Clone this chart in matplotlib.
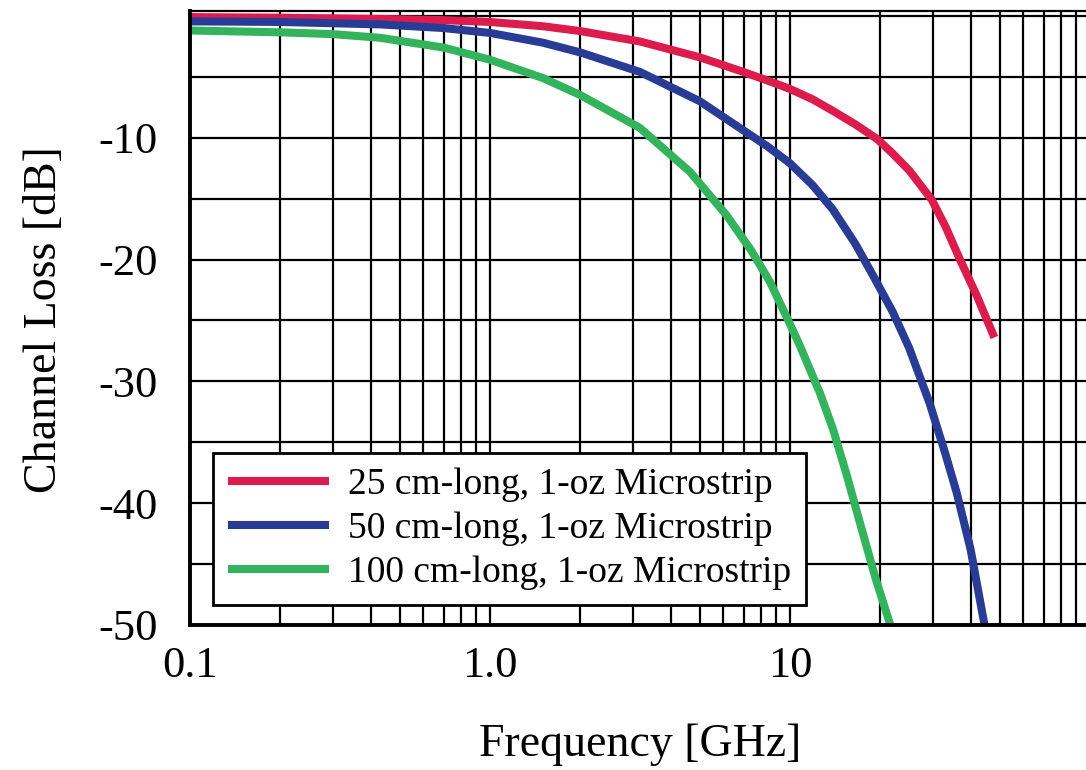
import matplotlib
matplotlib.use('Agg')
import matplotlib.pyplot as plt
import numpy as np

plt.rcParams['font.family'] = ['Liberation Serif', 'DejaVu Serif']

# --- Data (frequency in GHz, loss in dB) ---
f_25 = [0.1, 0.2, 0.43, 0.7, 1.0, 1.5, 2.0, 3.16, 5.0, 6.8, 8.4, 10.0, 11.9, 13.9,
        16.5, 19.5, 22.0, 25.0, 29.7, 33.0, 36.7, 42.0, 48.0]
loss_25 = [-0.1, -0.15, -0.25, -0.35, -0.5, -0.85, -1.25, -2.1, -3.4, -4.5, -5.3, -6.0, -6.85, -7.8,
           -8.9, -10.1, -11.3, -12.7, -15.1, -17.3, -19.9, -23.0, -26.4]

f_50 = [0.1, 0.2, 0.43, 0.7, 1.0, 1.5, 2.0, 3.16, 5.0, 6.8, 8.4, 10.0, 11.9, 13.9,
        16.5, 19.0, 22.0, 25.0, 29.2, 33.0, 36.0, 40.0, 44.5]
loss_50 = [-0.45, -0.5, -0.7, -1.0, -1.4, -2.2, -3.0, -4.6, -7.0, -9.2, -10.7, -12.1, -13.9, -15.9,
           -18.7, -21.4, -24.3, -27.3, -31.8, -36.0, -39.2, -43.8, -50.0]

f_100 = [0.1, 0.2, 0.3, 0.43, 0.7, 1.0, 1.5, 2.0, 3.16, 4.64, 6.16, 7.4, 8.56, 10.0, 10.8,
         12.6, 13.9, 15.5, 17.1, 19.3, 21.6]
loss_100 = [-1.2, -1.35, -1.5, -1.8, -2.6, -3.6, -5.1, -6.5, -9.2, -12.8, -16.4, -19.2, -21.8, -25.3, -27.1,
            -31.0, -33.9, -37.8, -41.6, -46.2, -50.0]

labels = ['25 cm-long, 1-oz Microstrip', '50 cm-long, 1-oz Microstrip', '100 cm-long, 1-oz Microstrip']
colors = ['#DC1C4C', '#283C96', '#33B45C']

x_ticks = [0.1, 1.0, 10.0]
x_ticklabels = ['0.1', '1.0', '10']
y_ticks = [-10, -20, -30, -40, -50]
y_ticklabels = ['-10', '-20', '-30', '-40', '-50']

# --- Figure ---
W, H = 1086, 770
fig = plt.figure(figsize=(W / 100, H / 100), dpi=100)
ax = fig.add_axes([190 / W, 1 - 625 / H, 900 / W, 614 / H])

ax.set_xscale('log')
ax.set_xlim(0.1, 100)
ax.set_ylim(-50, 0.4)

# grid: log minor lines on x, every 5 dB on y
for dec in [0.1, 1, 10]:
    for m in range(1, 10):
        ax.axvline(dec * m, color='black', lw=1.6, zorder=1)
for yv in np.arange(-50, 1, 5):
    ax.axhline(yv, color='black', lw=1.6, zorder=1)

for fx, ly, c, lab in zip([f_25, f_50, f_100], [loss_25, loss_50, loss_100], colors, labels):
    ax.plot(fx, ly, color=c, lw=5.8, label=lab, zorder=3,
            solid_capstyle='butt', solid_joinstyle='round')

ax.set_xticks(x_ticks)
ax.set_xticklabels(x_ticklabels)
ax.xaxis.set_minor_locator(matplotlib.ticker.NullLocator())
ax.set_yticks(y_ticks)
ax.set_yticklabels(y_ticklabels)
ax.tick_params(axis='both', length=0, labelsize=32)
ax.tick_params(axis='y', pad=23)
ax.tick_params(axis='x', pad=15)

for s in ['left', 'bottom']:
    ax.spines[s].set_linewidth(2.8)
    ax.spines[s].set_zorder(4)
ax.spines['top'].set_linewidth(1.6)
ax.spines['right'].set_visible(False)

leg = ax.legend(loc='lower left', bbox_to_anchor=(23 / 900, 20 / 614), borderaxespad=0,
                fontsize=27, frameon=True, fancybox=False, framealpha=1, handlelength=2.7,
                handletextpad=0.5, labelspacing=0.25, borderpad=0.4)
leg.get_frame().set_edgecolor('black')
leg.get_frame().set_linewidth(2)
leg.set_zorder(5)

fig.text(45 / W, 1 - 320 / H, 'Channel Loss [dB]', rotation=90, ha='center', va='center', fontsize=33)
fig.text(640 / W, 1 - 745 / H, 'Frequency [GHz]', ha='center', va='center', fontsize=33)

fig.savefig('out.png', dpi=100)
